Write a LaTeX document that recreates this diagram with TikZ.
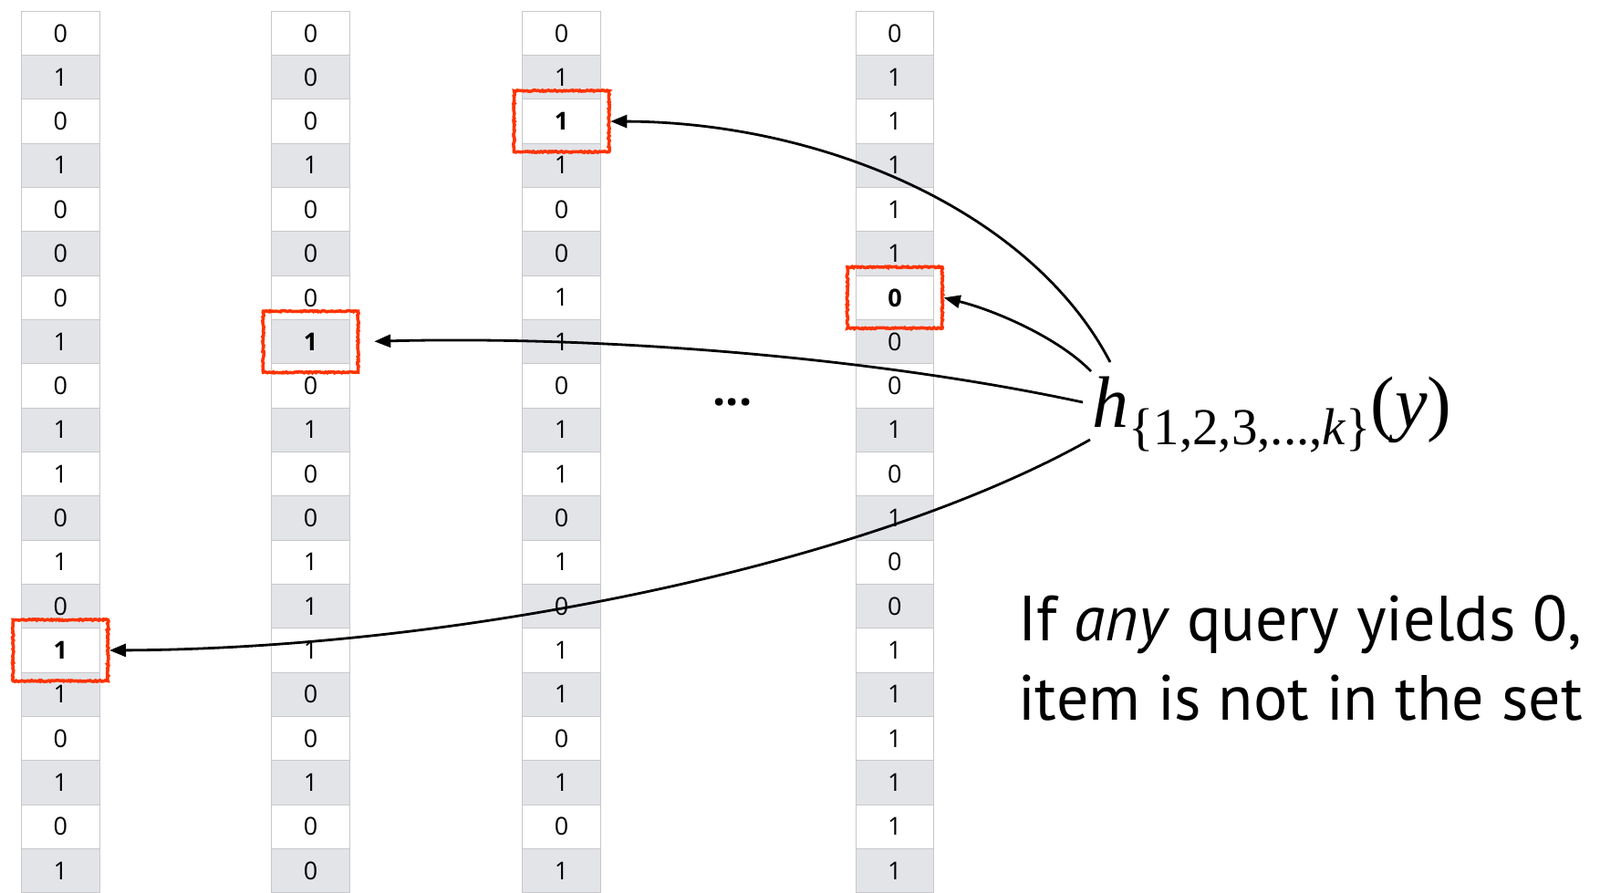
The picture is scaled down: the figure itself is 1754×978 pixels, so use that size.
\documentclass[tikz,border=0pt]{standalone}
\usepackage{fontspec}
\setmainfont{Open Sans}
\newfontfamily\cellfont{Open Sans}
\newfontfamily\notefont{PT Sans}
\newfontfamily\timesf{Liberation Serif}
\usetikzlibrary{arrows.meta,decorations.pathmorphing}
\definecolor{cellgray}{RGB}{227,228,232}
\definecolor{cellline}{RGB}{200,200,203}
\definecolor{hitred}{RGB}{255,51,0}
\begin{document}
\begin{tikzpicture}[x=1pt,y=-1pt,
  cell/.style={draw=cellline, line width=1pt, minimum width=85.5pt, minimum height=48.33pt,
    inner sep=0pt, anchor=north west, font=\cellfont\fontsize{27}{27}\selectfont},
  hit/.style={draw=hitred, line width=3.5pt, minimum width=104pt, minimum height=67pt, inner sep=0pt,
    decorate, decoration={random steps, segment length=1.5pt, amplitude=0.7pt}},
  query/.style={draw=black, line width=2.8pt, -{Triangle[length=18pt,width=14pt]}},
]
\useasboundingbox (0,0) rectangle (1754,978);
\fill[white] (0,0) rectangle (1754,978);

\foreach \cx/\vals [count=\ci] in {
  23/{0,1,0,1,0,0,0,1,0,1,1,0,1,0,\textbf{1},1,0,1,0,1},
  297.3/{0,0,0,1,0,0,0,\textbf{1},0,1,0,0,1,1,1,0,0,1,0,0},
  572.3/{0,1,\textbf{1},1,0,0,1,1,0,1,1,0,1,0,1,1,0,1,0,1},
  937.7/{0,1,1,1,1,1,\textbf{0},0,0,1,0,1,0,0,1,1,1,1,1,1}}{
  \foreach \v [count=\r from 0] in \vals {
    \ifodd\r\relax \def\cfill{cellgray}\else \def\cfill{white}\fi
    \node[cell, fill=\cfill] (c\ci-\r) at (\cx, 11.7+48.33*\r) {\v};
  }
}

\node[hit] (box1) at (c1-14.center) {};
\node[hit] (box2) at (c2-7.center) {};
\node[hit] (box3) at (c3-2.center) {};
\node[hit] (box4) at (c4-6.center) {};

\node[inner sep=0pt, font=\cellfont\bfseries\fontsize{50}{50}\selectfont] (dots) at (803,441) {...};

\node[anchor=base west, inner sep=0pt] (hlabel) at (1197,468)
  {\timesf\fontsize{80}{80}\selectfont\itshape h\upshape\raisebox{-19pt}{\fontsize{57}{57}\selectfont\{1,2,3,...,\itshape k\upshape\}}(\itshape y\upshape)};

\coordinate (sA) at (1217,397);
\coordinate (sB) at (1196,407);
\coordinate (sC) at (1187,441);
\coordinate (sD) at (1195,482);

\draw[query] (sA) .. controls (1130,230) and (900,134) .. (box3.east);
\draw[query] (sB) .. controls (1160,370) and (1090,340) .. (box4.east);
\draw[query, shorten >=16pt] (sC) .. controls (950,390) and (650,368) .. (box2.east);
\draw[query] (sD) .. controls (950,620) and (500,711) .. (box1.east);

\node[anchor=base west, inner sep=0pt, font=\notefont\fontsize{70}{70}\selectfont] (note1) at (1116,702)
  {If \textit{any} query yields 0,};
\node[anchor=base west, inner sep=0pt, font=\notefont\fontsize{70}{70}\selectfont] (note2) at (1116,789)
  {item is not in the set};
\end{tikzpicture}
\end{document}
